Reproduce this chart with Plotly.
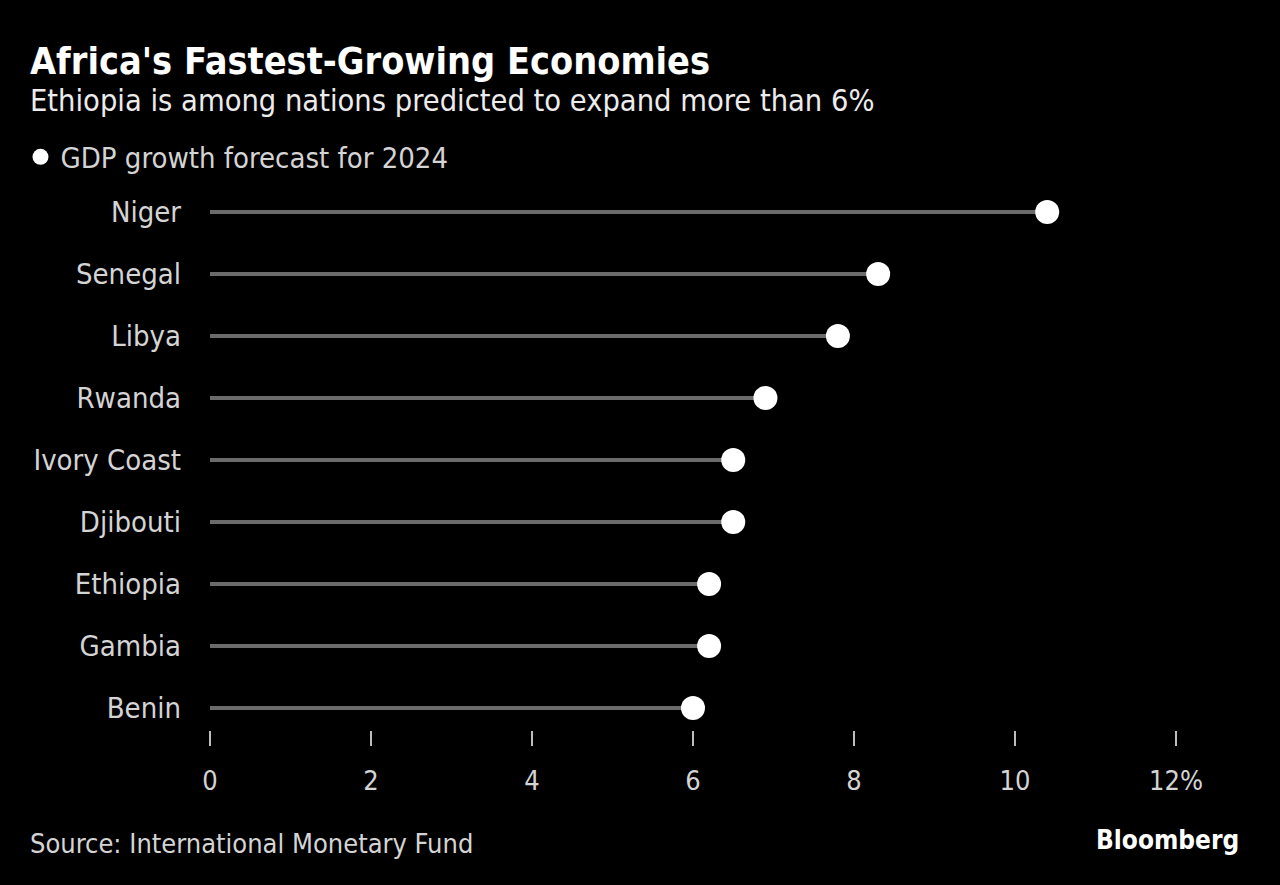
import plotly.graph_objects as go

countries = ["Niger", "Senegal", "Libya", "Rwanda", "Ivory Coast", "Djibouti", "Ethiopia", "Gambia", "Benin"]
growth = [10.4, 8.3, 7.8, 6.9, 6.5, 6.5, 6.2, 6.2, 6.0]
x_ticks = [0, 2, 4, 6, 8, 10, 12]
x_tick_labels = ["0", "2", "4", "6", "8", "10", "12%"]

FONT = "Liberation Sans Narrow, DejaVu Sans Condensed, Roboto Condensed, Roboto, sans-serif"
LABEL = "#d4d4d4"

fig = go.Figure()

for c, v in zip(countries, growth):
    fig.add_trace(go.Scatter(
        x=[0, v], y=[c, c], mode="lines",
        line=dict(color="#6b6b6b", width=4),
        showlegend=False, hoverinfo="skip",
    ))

fig.add_trace(go.Scatter(
    x=growth, y=countries, mode="markers",
    marker=dict(color="white", size=24, line=dict(width=0)),
    name="GDP growth forecast for 2024",
    showlegend=True, cliponaxis=False,
))

fig.update_layout(
    width=1280, height=885,
    paper_bgcolor="black", plot_bgcolor="black",
    margin=dict(l=210, r=104, t=181, b=155, autoexpand=False),
    font=dict(family=FONT, color=LABEL, size=26),
    showlegend=True,
    legend=dict(
        xref="container", yref="container",
        x=0.016, y=1 - 157 / 885, xanchor="left", yanchor="middle",
        orientation="h", font=dict(size=29, color=LABEL),
        bgcolor="rgba(0,0,0,0)", itemwidth=30,
    ),
    xaxis=dict(
        range=[0, 12], tickvals=x_ticks, ticktext=x_tick_labels,
        showgrid=False, zeroline=False, showline=False,
        ticks="outside", ticklen=15, tickwidth=2, tickcolor="#bdbdbd",
        ticklabelstandoff=12, tickfont=dict(size=27, color=LABEL),
        fixedrange=True,
    ),
    yaxis=dict(
        categoryorder="array", categoryarray=countries,
        range=[8.355, -0.5],
        showgrid=False, zeroline=False, showline=False,
        ticks="", ticklabelstandoff=28,
        tickfont=dict(size=29, color=LABEL),
        fixedrange=True,
    ),
)


def ann(text, x, y, size, color, xanchor="left", bold=False):
    fig.add_annotation(
        text=f"<b>{text}</b>" if bold else text,
        xref="paper", yref="paper", showarrow=False,
        x=(x - 210) / (1280 - 210 - 104), y=(730 - y) / (730 - 181),
        xanchor=xanchor, yanchor="middle",
        font=dict(family=FONT, size=size, color=color),
    )


ann("Africa's Fastest-Growing Economies", 28, 61, 37.5, "white", bold=True)
ann("Ethiopia is among nations predicted to expand more than 6%", 28, 101, 30.5, "#ececec")
ann("Source: International Monetary Fund", 28, 843, 27, LABEL)
ann("Bloomberg", 1241, 840, 26, "white", xanchor="right", bold=True)

fig.write_html("out.html")
